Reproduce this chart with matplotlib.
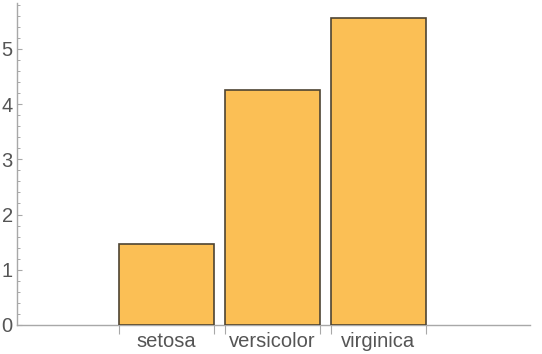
import numpy as np
import matplotlib.pyplot as plt

species = ['setosa', 'versicolor', 'virginica']
petal_length = [1.462, 4.260, 5.552]

plt.rcParams['font.family'] = ['Liberation Sans', 'DejaVu Sans']

fig = plt.figure(figsize=(5.42, 3.54), dpi=100)
ax = fig.add_axes([17 / 542, 29 / 354, 513 / 542, 322 / 354])

pos = np.arange(1, len(species) + 1)
width = 0.9
ax.bar(pos, petal_length, width=width, color='#fbbf55',
       edgecolor='#4e4433', linewidth=1.2, zorder=3)

ax.set_xlim(1 - 1.41, 1 + 3.43)
ax.set_ylim(0, 5.83)

axis_col = '#a8a8a8'
text_col = '#555555'
for side in ['top', 'right']:
    ax.spines[side].set_visible(False)
for side in ['left', 'bottom']:
    ax.spines[side].set_color(axis_col)
    ax.spines[side].set_linewidth(1.0)

# y axis: ticks point inward, minor every 0.2
ax.set_yticks(range(0, 6))
ax.set_yticks(np.arange(0, 5.81, 0.2), minor=True)
ax.tick_params(axis='y', which='major', direction='in', length=3.6,
               width=0.8, color=axis_col, labelcolor=text_col,
               labelsize=14.5, pad=3)
ax.tick_params(axis='y', which='minor', direction='in', length=2.0,
               width=0.7, color=axis_col)

# x axis: labels at centres, tick marks at bar edges
edges = np.concatenate([pos - width / 2, pos + width / 2])
ax.set_xticks(pos)
ax.set_xticklabels(species)
ax.set_xticks(edges, minor=True)
ax.tick_params(axis='x', which='major', length=0, labelcolor=text_col,
               labelsize=14.5, pad=5)
ax.tick_params(axis='x', which='minor', direction='out', length=6.3,
               width=0.8, color=axis_col)

fig.savefig('out.png', dpi=100)
